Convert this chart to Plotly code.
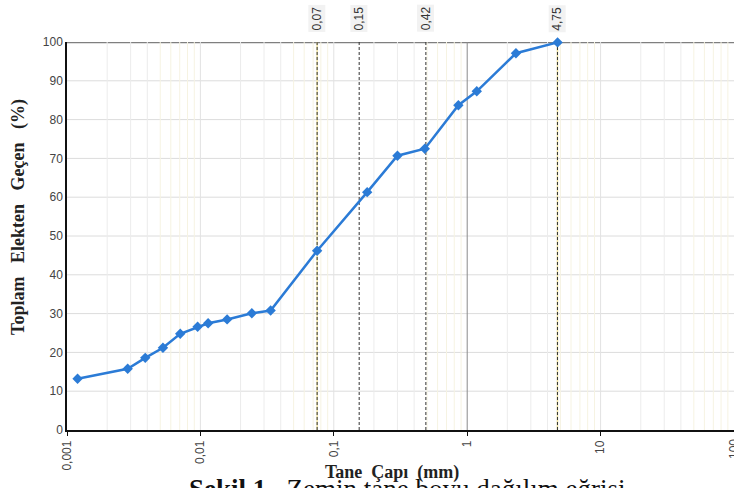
import math
import plotly.graph_objects as go

# ---- data ----
grain_size_mm = [0.0012, 0.00285, 0.00386, 0.00524, 0.00706, 0.00953, 0.01143,
                 0.01586, 0.0243, 0.0336, 0.075, 0.178, 0.300, 0.481, 0.859,
                 1.18, 2.32, 4.76]
passing_pct = [13.2, 15.8, 18.6, 21.2, 24.8, 26.6, 27.5, 28.5, 30.1, 30.8,
               46.2, 61.3, 70.7, 72.5, 83.7, 87.3, 97.1, 99.9]

ref_lines = [0.075, 0.155, 0.49, 4.75]
ref_labels = ["0,07", "0,15", "0,42", "4,75"]

x_tickvals = [0.001, 0.01, 0.1, 1, 10, 100]
x_ticktext = ["0,001", "0,01", "0,1", "1", "10", "100"]
y_tickvals = list(range(0, 101, 10))

fig = go.Figure()

shapes = []
# minor gridlines (2..9 in each decade); 5..9 tinted yellowish
for d in [0.001, 0.01, 0.1, 1, 10]:
    for m in range(2, 10):
        col = "#ececec" if m < 5 else "#f6f3e2"
        shapes.append(dict(type="line", xref="x", yref="y", x0=d * m, x1=d * m,
                           y0=0, y1=100, line=dict(color=col, width=1), layer="below"))
# major gridlines
for d in [0.01, 0.1, 10]:
    shapes.append(dict(type="line", xref="x", yref="y", x0=d, x1=d, y0=0, y1=100,
                       line=dict(color="#e2e2e2", width=1), layer="below"))
shapes.append(dict(type="line", xref="x", yref="y", x0=1, x1=1, y0=0, y1=100,
                   line=dict(color="#8a8a8a", width=1), layer="below"))
# horizontal gridlines
for v in y_tickvals[1:]:
    shapes.append(dict(type="line", xref="paper", yref="y", x0=0, x1=1, y0=v, y1=v,
                       line=dict(color="#dcdcdc", width=1), layer="below"))
# top border
shapes.append(dict(type="line", xref="paper", yref="y", x0=0, x1=1, y0=100, y1=100,
                   line=dict(color="#7f7f7f", width=2.5), layer="below"))
# reference dashed lines
for i, xv in enumerate(ref_lines):
    if i in (0, 3):
        shapes.append(dict(type="line", xref="x", yref="y", x0=xv, x1=xv, y0=0, y1=100,
                           line=dict(color="#ece0a0", width=1.5), layer="below"))
    shapes.append(dict(type="line", xref="x", yref="y", x0=xv, x1=xv, y0=0, y1=100,
                       line=dict(color="#333333", width=1, dash="3px,2px"), layer="below"))

fig.add_trace(go.Scatter(
    x=grain_size_mm, y=passing_pct, mode="lines+markers",
    line=dict(color="#2b7bd6", width=2.5),
    marker=dict(symbol="diamond", size=8, color="#2b7bd6"),
    showlegend=False, cliponaxis=False,
))

tick_font = dict(family="Arial, Liberation Sans", size=12, color="#444")

annotations = []
for xv, lab in zip(ref_lines, ref_labels):
    annotations.append(dict(x=math.log10(xv), xref="x", y=1.025, yref="paper", text=lab,
                            showarrow=False, textangle=-90, xanchor="center",
                            yanchor="bottom", bgcolor="#f2f2f2", borderpad=1,
                            font=dict(family="Arial, Liberation Sans", size=12, color="#333")))
# last x tick label (half cut by the page edge, as in the source)
annotations.append(dict(x=math.log10(x_tickvals[-1]), xref="x", y=-0.018, yref="paper",
                        text=x_ticktext[-1], showarrow=False, textangle=-90,
                        xanchor="center", yanchor="top", font=tick_font))
# y-axis title
annotations.append(dict(x=-0.073, xref="paper", y=0.55, yref="paper", xanchor="center",
                        yanchor="middle", textangle=-90, showarrow=False,
                        text="<b>Toplam&nbsp;&nbsp;&nbsp;Elekten&nbsp;&nbsp;&nbsp;Geçen&nbsp;&nbsp;&nbsp;(%)</b>",
                        font=dict(family="Liberation Serif, Times New Roman", size=18, color="#222")))
# x-axis title
annotations.append(dict(x=0.487, xref="paper", y=-0.11, yref="paper", yanchor="middle",
                        text="<b>Tane&nbsp;&nbsp;Çapı&nbsp;&nbsp;(mm)</b>", showarrow=False,
                        font=dict(family="Liberation Serif, Times New Roman", size=18, color="#222")))
# caption (cut by the page edge, as in the source)
annotations.append(dict(x=0.51, xref="paper", y=-0.108, yref="paper", yanchor="top",
                        text="<b>Şekil 1.</b>&nbsp;&nbsp;Zemin tane boyu dağılım eğrisi", showarrow=False,
                        font=dict(family="Liberation Serif, Times New Roman", size=27, color="#111")))

fig.update_layout(
    width=734, height=488,
    margin=dict(l=67, r=0, t=42, b=58),
    paper_bgcolor="white", plot_bgcolor="white",
    shapes=shapes, annotations=annotations,
    xaxis=dict(type="log", range=[-3, 2.0001], tickvals=x_tickvals[:-1], ticktext=x_ticktext[:-1],
               tickangle=-90, showgrid=False, zeroline=False,
               showline=True, linecolor="#111", linewidth=1.5,
               ticks="outside", ticklen=4, tickcolor="#111",
               tickfont=tick_font),
    yaxis=dict(range=[0, 100], tickvals=y_tickvals, showgrid=False, zeroline=False,
               showline=True, linecolor="#111", linewidth=1.5,
               ticks="", ticklen=0,
               tickfont=tick_font),
)

fig.write_html("out.html")
